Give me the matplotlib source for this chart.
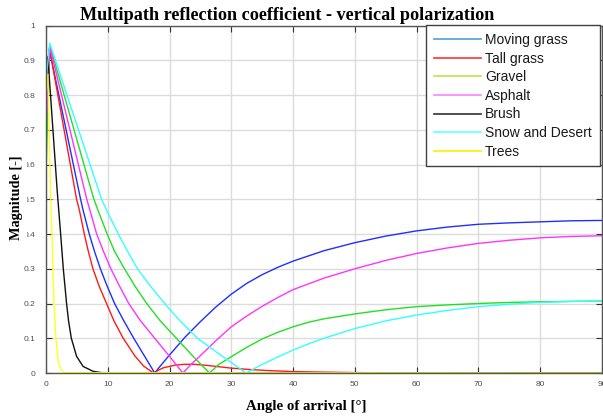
import matplotlib
matplotlib.use("Agg")
import matplotlib.pyplot as plt
from matplotlib.lines import Line2D

# ---- data ----
labels = ["Moving grass", "Tall grass", "Gravel", "Asphalt", "Brush", "Snow and Desert", "Trees"]
line_colors = ["#1f2fff", "#ff1a1a", "#22e022", "#ff33ff", "#111111", "#33ffff", "#ffff22"]
legend_colors = ["#4d9fd8", "#ff3030", "#c4e04a", "#ff80ff", "#303030", "#66ffff", "#ffee00"]

moving_grass_x = [0, 0.55, 5.6, 6.0, 7.0, 7.85, 8.8, 9.9, 11.1, 12.6, 14.2, 15.9, 17.6,
                  18.5, 20, 22.5, 25, 27.5, 30, 32.5, 35, 37.5, 40, 45, 50, 55, 60, 65, 70, 75, 80, 85, 90]
moving_grass_y = [0.80, 0.93, 0.50, 0.469, 0.40, 0.35, 0.30, 0.25, 0.20, 0.15, 0.10, 0.05, 0.0,
                  0.02, 0.052, 0.103, 0.148, 0.19, 0.227, 0.258, 0.283, 0.304, 0.322, 0.352, 0.375,
                  0.394, 0.409, 0.42, 0.428, 0.432, 0.435, 0.438, 0.439]

tall_grass_x = [0, 0.55, 4.95, 5.4, 6.2, 6.85, 7.6, 8.6, 9.8, 11.0, 12.5, 14.35, 15.8, 17.4,
                18.2, 19, 20, 21, 22.5, 24, 26, 28, 30, 33, 36, 40, 45, 50, 55, 60, 90]
tall_grass_y = [0.85, 0.935, 0.50, 0.469, 0.40, 0.35, 0.30, 0.25, 0.20, 0.15, 0.10, 0.05, 0.02, 0.0,
                0.008, 0.015, 0.019, 0.023, 0.025, 0.025, 0.022, 0.018, 0.014, 0.010, 0.007, 0.004,
                0.0025, 0.0012, 0.0004, 0.0, 0.0]

gravel_x = [0, 0.6, 7.75, 8.4, 9.9, 11.1, 12.7, 14.4, 16.3, 18.5, 21.1, 23.7, 26.45,
            28, 30, 32.5, 35, 37.5, 40, 42.5, 45, 50, 55, 60, 65, 70, 75, 80, 85, 90]
gravel_y = [0.575, 0.945, 0.50, 0.469, 0.40, 0.35, 0.30, 0.25, 0.20, 0.15, 0.10, 0.05, 0.0,
            0.025, 0.047, 0.074, 0.098, 0.117, 0.133, 0.146, 0.156, 0.170, 0.182, 0.191, 0.196,
            0.200, 0.203, 0.205, 0.206, 0.207]

asphalt_x = [0, 0.6, 6.6, 7.1, 8.2, 9.3, 10.5, 11.9, 13.4, 15.3, 17.6, 19.9, 22.15,
             23.5, 25, 27.5, 30, 32.5, 35, 37.5, 40, 45, 50, 55, 60, 65, 70, 75, 80, 85, 90]
asphalt_y = [0.70, 0.94, 0.50, 0.469, 0.40, 0.35, 0.30, 0.25, 0.20, 0.15, 0.10, 0.05, 0.0,
             0.025, 0.05, 0.093, 0.133, 0.164, 0.192, 0.217, 0.240, 0.273, 0.300, 0.324, 0.344,
             0.360, 0.373, 0.382, 0.389, 0.393, 0.395]

brush_x = [0, 0.3, 1.8, 2.37, 2.8, 3.33, 3.65, 4.1, 4.95, 6.0, 7.6, 9, 90]
brush_y = [0.86, 0.91, 0.527, 0.40, 0.30, 0.20, 0.15, 0.10, 0.048, 0.019, 0.005, 0.001, 0.0]

snow_x = [0, 0.6, 9.0, 9.8, 11.7, 13.2, 14.8, 16.9, 19.2, 21.7, 24.5, 28.4, 32.4,
          35, 37.5, 40, 42.5, 45, 50, 55, 60, 65, 70, 75, 80, 85, 90]
snow_y = [0.84, 0.949, 0.50, 0.469, 0.40, 0.35, 0.30, 0.25, 0.20, 0.15, 0.10, 0.05, 0.0,
          0.025, 0.046, 0.066, 0.084, 0.100, 0.128, 0.150, 0.167, 0.180, 0.191, 0.198, 0.203,
          0.206, 0.207]

trees_x = [0, 0.3, 0.72, 0.97, 1.13, 1.29, 1.6, 2.0, 2.5, 3.0, 90]
trees_y = [0.80, 0.86, 0.527, 0.40, 0.30, 0.20, 0.10, 0.03, 0.008, 0.001, 0.0]

series_x = [moving_grass_x, tall_grass_x, gravel_x, asphalt_x, brush_x, snow_x, trees_x]
series_y = [moving_grass_y, tall_grass_y, gravel_y, asphalt_y, brush_y, snow_y, trees_y]

x_ticks = list(range(0, 91, 10))
y_ticks = [i / 10 for i in range(11)]
y_tick_labels = ["0", "0.1", "0.2", "0.3", "0.4", "0.5", "0.6", "0.7", "0.8", "0.9", "1"]

title = "Multipath reflection coefficient - vertical polarization"
xlabel = "Angle of arrival [°]"
ylabel = "Magnitude [-]"

# ---- figure ----
W, H = 603, 419
fig = plt.figure(figsize=(W / 100, H / 100), dpi=100)
ax = fig.add_axes([46 / W, 1 - 373 / H, (602 - 46) / W, (373 - 25.5) / H])

for xs, ys, c in zip(series_x, series_y, line_colors):
    ax.plot(xs, ys, color=c, lw=1.0, solid_joinstyle="round")

ax.set_xlim(0, 90)
ax.set_ylim(0, 1)
ax.set_xticks(x_ticks)
ax.set_yticks(y_ticks)
ax.set_yticklabels(y_tick_labels)
ax.grid(True, color="#dcdcdc", lw=1.0)
ax.set_axisbelow(True)
ax.tick_params(direction="in", length=4, width=0.8, color="#333333",
               top=True, right=True, labelsize=6, labelcolor="#505050")
ax.tick_params(axis="x", pad=5.5)
ax.tick_params(axis="y", pad=7.5)
for lab in ax.get_xticklabels() + ax.get_yticklabels():
    lab.set_fontfamily("Liberation Sans")
for s in ax.spines.values():
    s.set_color("#555555")
    s.set_linewidth(1.0)

handles = [Line2D([], [], color=c, lw=1.2) for c in legend_colors]
leg = ax.legend(handles, labels, loc="upper right",
                bbox_to_anchor=(599.5 / W, 1 - 25.5 / H), bbox_transform=fig.transFigure,
                borderaxespad=0, fancybox=False, framealpha=1, edgecolor="#404040",
                prop={"family": "Liberation Sans", "size": 10},
                handlelength=3.4, handletextpad=0.3, labelspacing=0.33, borderpad=0.55)
leg.get_frame().set_linewidth(1.0)
for t in leg.get_texts():
    t.set_color("#1a1a1a")

serif = {"family": "Liberation Serif", "weight": "bold"}
fig.text(287 / W, 1 - 15 / H, title, ha="center", va="center", fontsize=13.1, **serif)
fig.text(306.7 / W, 1 - 410 / H, xlabel, ha="center", va="baseline", fontsize=10.7, **serif)
fig.text(16.5 / W, 1 - 198 / H, ylabel, ha="center", va="center", rotation=90, fontsize=10.3,
         bbox=dict(fc="white", ec="none", pad=3.0), **serif)

fig.savefig("out.png", dpi=100)
